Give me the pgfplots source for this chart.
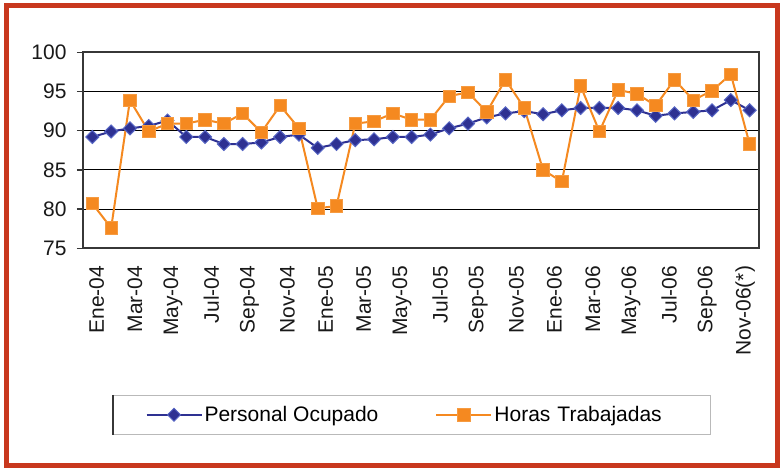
\documentclass[border=0pt]{standalone}
\usepackage{pgfplots}
\usepackage{pgfplotstable}
\pgfplotsset{compat=1.18}
\usepackage{fontspec}
\setmainfont{Liberation Sans}
\definecolor{framered}{RGB}{200,56,30}
\definecolor{poblue}{RGB}{46,49,146}
\definecolor{poedge}{RGB}{85,100,195}
\definecolor{htorange}{RGB}{245,137,32}
\definecolor{axgray}{RGB}{55,55,55}
\pgfplotstableread{
x po ht
0 89.2 80.7
1 89.9 77.6
2 90.3 93.9
3 90.6 89.9
4 91.3 90.9
5 89.2 90.9
6 89.2 91.4
7 88.3 90.9
8 88.3 92.2
9 88.5 89.8
10 89.2 93.2
11 89.5 90.3
12 87.8 80.1
13 88.3 80.4
14 88.8 90.9
15 88.9 91.2
16 89.2 92.2
17 89.2 91.4
18 89.5 91.4
19 90.3 94.4
20 90.9 94.9
21 91.7 92.4
22 92.2 96.5
23 92.5 92.9
24 92.1 85.0
25 92.6 83.5
26 92.9 95.7
27 92.9 89.9
28 92.9 95.2
29 92.6 94.7
30 91.9 93.2
31 92.2 96.5
32 92.4 93.9
33 92.6 95.1
34 93.9 97.2
35 92.6 88.3
}\datatable
\begin{document}
\begin{tikzpicture}
\useasboundingbox (0pt,0pt) rectangle (782pt,471pt);
\fill[white] (0pt,0pt) rectangle (782pt,471pt);
\draw[framered, line width=5pt] (6pt,5pt) rectangle (777pt,465pt);
\begin{axis}[
  at={(83pt,222.7pt)}, anchor=south west,
  scale only axis, width=676pt, height=196pt,
  xmin=-0.5, xmax=35.5, ymin=75, ymax=100,
  ytick={75,80,85,90,95,100},
  xtick={0.23,2.26,4.29,6.33,8.36,10.39,12.42,14.45,16.49,18.52,20.55,22.58,24.61,26.65,28.68,30.71,32.74,34.77},
  xticklabels={Ene-04,Mar-04,May-04,Jul-04,Sep-04,Nov-04,Ene-05,Mar-05,May-05,Jul-05,Sep-05,Nov-05,Ene-06,Mar-06,May-06,Jul-06,Sep-06,Nov-06(*)},
  xtick style={draw=none},
  x tick label style={yshift=-8pt, rotate=90, anchor=east, font=\fontsize{21}{25}\selectfont, text=black!90},
  y tick label style={font=\fontsize{21}{25}\selectfont, text=black!90, xshift=-7pt},
  /pgf/number format/assume math mode=true,
  ytick pos=left,
  tick align=outside,
  major tick length=6pt,
  ytick style={axgray, line width=1.3pt},
  axis line style={axgray, line width=2pt},
  ymajorgrids, grid style={black, line width=1.1pt},
  clip=false,
  legend columns=2,
  legend style={
    name=leg,
    at={(0.0444,-0.748)}, anchor=north west,
    draw=gray!55, line width=1pt,
    font=\fontsize{21}{25}\selectfont,
    inner xsep=32pt, inner ysep=9pt,
    nodes={inner sep=2pt},
    /tikz/every even column/.append style={column sep=55pt},
    /tikz/column 4/.style={nodes={text width=182pt}},
  },
  legend image code/.code={\draw[mark repeat=2,mark phase=2,#1] plot coordinates {(0pt,0pt) (27.5pt,0pt) (55pt,0pt)};},
]
\addplot[poblue, line width=2pt, mark=square*, mark size=4.6pt,
  mark options={rotate=45, fill=poblue, draw=poedge, line width=1pt}]
  table[x=x, y=po] {\datatable};
\addlegendentry{Personal Ocupado}
\addplot[htorange, line width=2pt, mark=square*, mark size=6.2pt,
  mark options={fill=htorange, draw=htorange!85!white, line width=0.8pt}]
  table[x=x, y=ht] {\datatable};
\addlegendentry{Horas Trabajadas}
\end{axis}
\draw[axgray, line width=2pt] (leg.north west) -- (leg.south west);
\end{tikzpicture}
\end{document}
